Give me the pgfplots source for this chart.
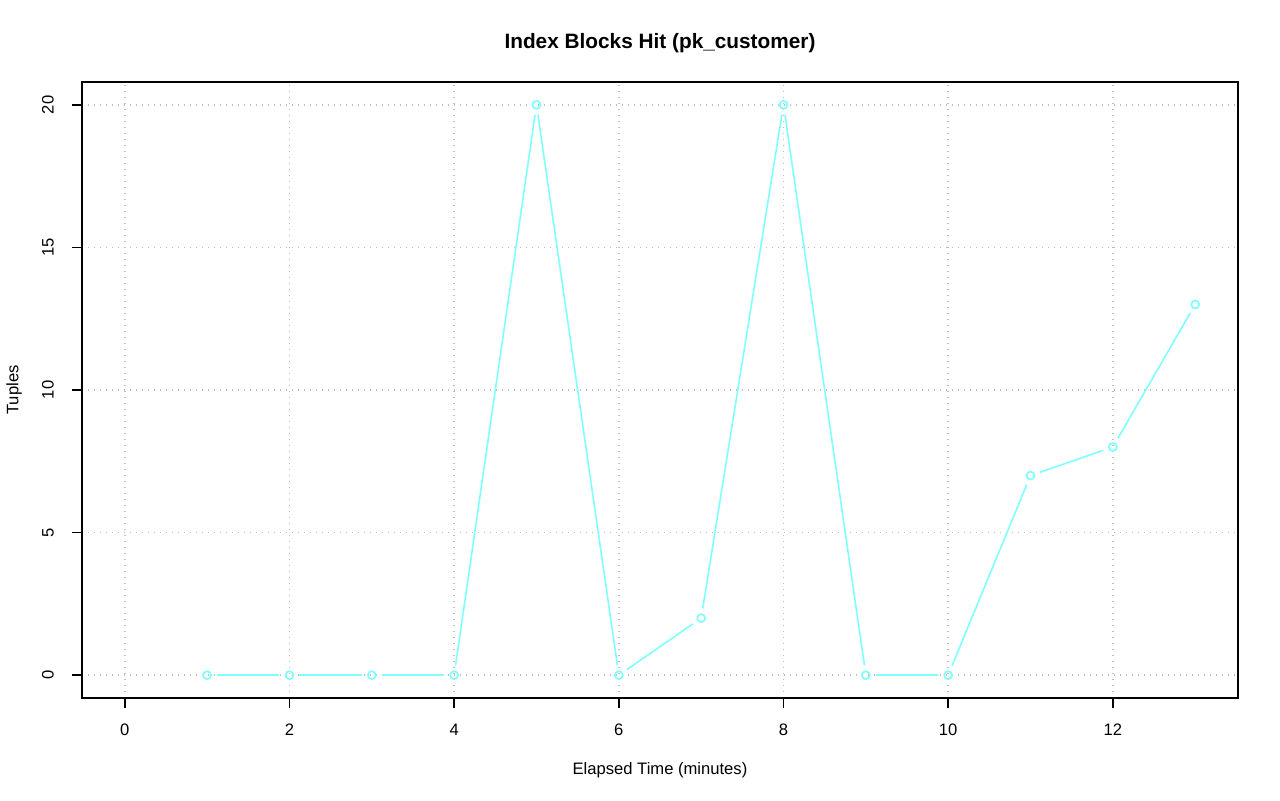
\documentclass[border=0pt]{standalone}
\usepackage{fontspec}
\setmainfont{Liberation Sans}
\usepackage{pgfplots}
\pgfplotsset{compat=1.18}
\definecolor{RCyan}{HTML}{80FFFF}
\definecolor{GridGray}{HTML}{BEBEBE}

% elapsed minute, tuples, step to the next point
\pgfplotstableread{
x  y   u   v
1  0   1   0
2  0   1   0
3  0   1   0
4  0   1   20
5  20  1   -20
6  0   1   2
7  2   1   18
8  20  1   -20
9  0   1   0
10 0   1   7
11 7   1   1
12 8   1   5
}\segs
\pgfplotstableread{
x  y
1  0
2  0
3  0
4  0
5  20
6  0
7  2
8  20
9  0
10 0
11 7
12 8
13 13
}\pts

\begin{document}
\begin{tikzpicture}
\useasboundingbox (-41pt,-51.5pt) rectangle (599pt,349pt);
\begin{axis}[
  at={(0,0)}, anchor=south west,
  scale only axis, width=578pt, height=308pt,
  xmin=-0.52, xmax=13.52, ymin=-0.8, ymax=20.8,
  xtick={0,2,...,12}, ytick={0,5,...,20},
  axis line style={line width=0.75pt},
  tick style={line width=0.75pt, black},
  tick align=outside, major tick length=5pt,
  xtick pos=bottom, ytick pos=left,
  grid=major, grid style={GridGray, line width=0.7pt, dash pattern=on 0.7pt off 2.3pt},
  tick label style={font=\fontsize{8.3}{10}\selectfont},
  /pgf/number format/assume math mode=true,
  xticklabel style={anchor=center, yshift=-11pt},
  yticklabel style={anchor=center, rotate=90, yshift=12pt},
  clip=false,
]
\addplot[RCyan, line width=0.8pt, -,
  quiver={u=\thisrow{u}, v=\thisrow{v},
    every arrow/.append style={shorten >=5pt, shorten <=5pt}}]
  table[x=x, y=y] {\segs};
\addplot[only marks, mark=o, mark size=2pt,
  mark options={RCyan, line width=0.85pt}] table[x=x, y=y] {\pts};
\end{axis}
\node[font=\bfseries\fontsize{10.4}{12}\selectfont] at (289pt,327.5pt) {Index Blocks Hit (pk\_customer)};
\node[font=\fontsize{8.3}{10}\selectfont] at (289pt,-36pt) {Elapsed Time (minutes)};
\node[font=\fontsize{8.3}{10}\selectfont, rotate=90] at (-34pt,154pt) {Tuples};
\end{tikzpicture}
\end{document}
